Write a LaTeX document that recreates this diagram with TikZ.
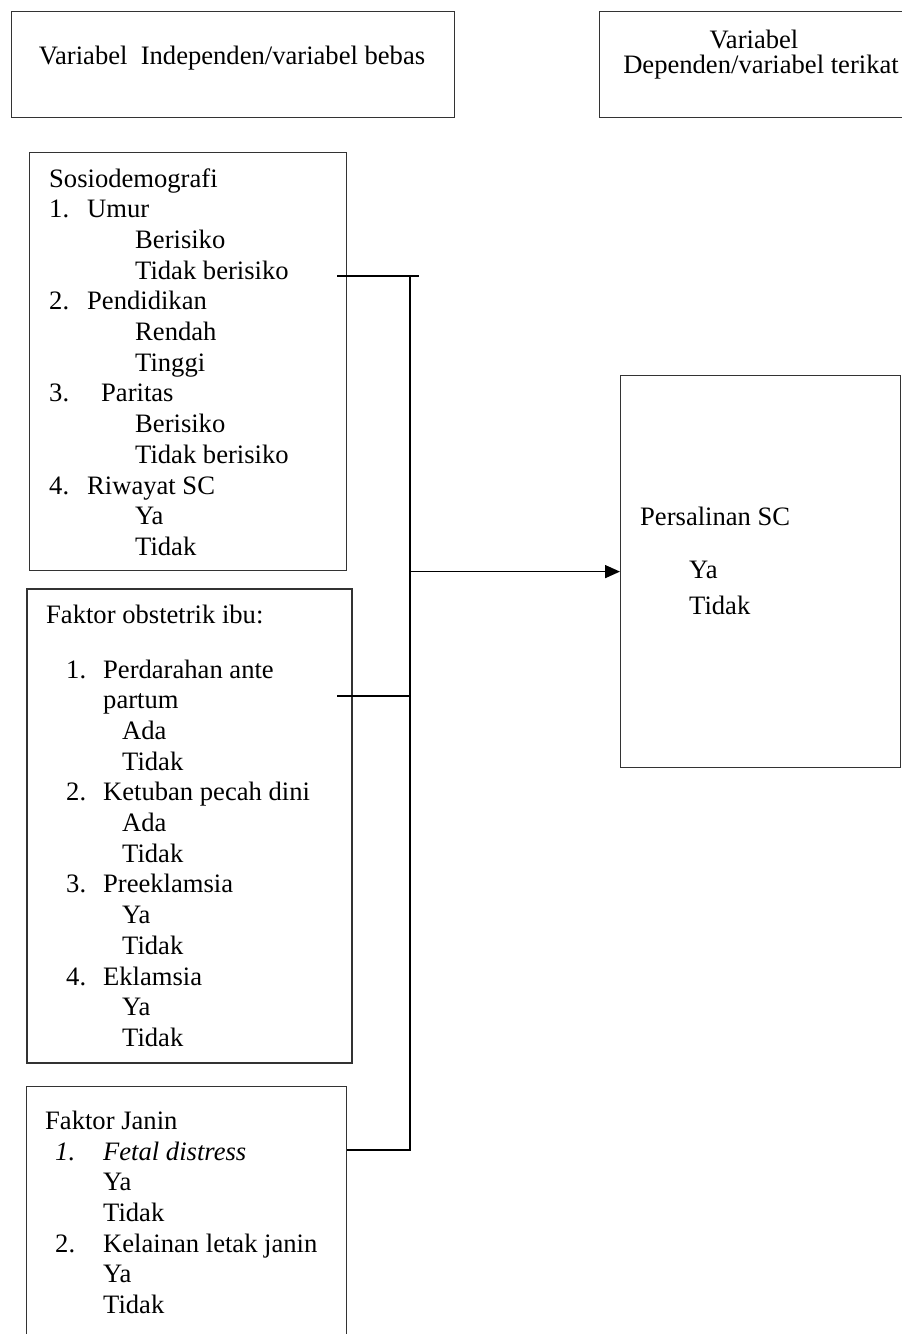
\documentclass[tikz,border=0pt]{standalone}
\usepackage{fontspec}
\setmainfont{Liberation Serif}
\usepackage{tikz}
\usetikzlibrary{
	arrows.meta,
	calc,
	positioning
}
\newcommand{\nomor}[2]{\makebox[#1pt][l]{#2}}

\begin{document}
\begin{tikzpicture}[x=1pt, y=-1pt, %satuan piksel, sumbu y ke bawah
	box/.style={draw=black!80, line width=1.2pt, anchor=north west, inner sep=0pt},
	txt/.style={anchor=base west, inner sep=0pt, font=\fontsize{26.6}{30.7}\selectfont},
	link/.style={line width=2.3pt},
	panah/.style={line width=1.6pt, -{Triangle[length=15pt, width=13pt]}}]
		\useasboundingbox (0,0) rectangle (902,1334);
		\node[box, minimum width=443, minimum height=106] (indep) at (11,11) {};
		\node[box, minimum width=306, minimum height=106] (dep) at (599,11) {};
		\node[box, minimum width=317, minimum height=418] (sosio) at (29,152) {};
		\node[box, line width=1.6pt, minimum width=325, minimum height=474] (obstetrik) at (26,588) {};
		\node[box, minimum width=320, minimum height=262] (janin) at (26,1086) {};
		\node[box, minimum width=280, minimum height=392] (hasil) at (620,375) {};
		\node[txt, anchor=base] (tIndep) at (232,64) {Variabel\ \ Independen/variabel bebas};
		\node[txt, anchor=base] (tDep1) at (754,48) {Variabel};
		\node[txt, anchor=base] (tDep2) at (761,73) {Dependen/variabel terikat};
		\foreach \dx/\t [count=\i] in {0/Sosiodemografi, 0/{\nomor{38}{1.}Umur}, 86/Berisiko, 86/Tidak berisiko,
			0/{\nomor{38}{2.}Pendidikan}, 86/Rendah, 86/Tinggi, 0/{\nomor{52}{3.}Paritas}, 86/Berisiko,
			86/Tidak berisiko, 0/{\nomor{38}{4.}Riwayat SC}, 86/Ya, 86/Tidak}
		\node[txt] (s\i) at ({49+\dx}, {187+30.7*(\i-1)}) {\t};
		\node[txt] (tObstetrik) at (46,623) {Faktor obstetrik ibu:};
		\foreach \dx/\t [count=\i] in {0/{\nomor{37}{1.}Perdarahan ante}, 37/partum, 56/Ada, 56/Tidak,
			0/{\nomor{37}{2.}Ketuban pecah dini}, 56/Ada, 56/Tidak, 0/{\nomor{37}{3.}Preeklamsia}, 56/Ya,
			56/Tidak, 0/{\nomor{37}{4.}Eklamsia}, 56/Ya, 56/Tidak}
		\node[txt] (o\i) at ({66+\dx}, {678+30.7*(\i-1)}) {\t};
		\node[txt] (tJanin) at (45,1129) {Faktor Janin};
		\foreach \dx/\t [count=\i] in {0/{\nomor{48}{\textit{1.}}\textit{Fetal distress}}, 48/Ya, 48/Tidak,
			0/{\nomor{48}{2.}Kelainan letak janin}, 48/Ya, 48/Tidak}
		\node[txt] (j\i) at ({55+\dx}, {1160+30.7*(\i-1)}) {\t};
		\node[txt] (tHasil) at (640,525) {Persalinan SC};
		\node[txt] (h1) at (689,578) {Ya};
		\node[txt] (h2) at (689,614) {Tidak};
		\coordinate (c1) at (337,276);
		\coordinate (c2) at (419,276);
		\coordinate (c3) at (337,696);
		\coordinate (bus1) at (410,276);
		\coordinate (bus2) at (410,1150);
		\draw[link] (c1) -- (c2);
		\draw[link] (c3) -- (c3 -| bus1);
		\draw[link] (bus1) -- (bus2) -- (bus2 -| janin.east);
		\draw[panah] (bus1 |- hasil.west) -- (hasil.west);
	\end{tikzpicture}
\end{document}
